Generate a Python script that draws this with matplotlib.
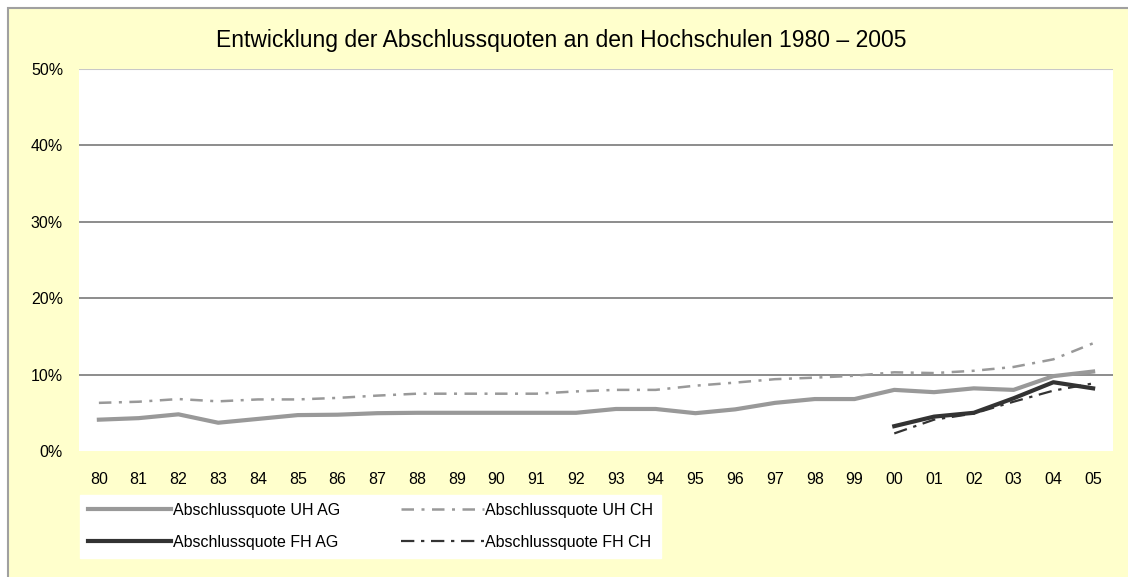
import matplotlib.pyplot as plt
from matplotlib.patches import Rectangle
import numpy as np

plt.rcParams['font.family'] = ['Liberation Sans', 'DejaVu Sans']

jahre = ['80', '81', '82', '83', '84', '85', '86', '87', '88', '89', '90', '91', '92',
         '93', '94', '95', '96', '97', '98', '99', '00', '01', '02', '03', '04', '05']
# Abschlussquoten in %
uh_ag = [4.1, 4.3, 4.8, 3.7, 4.2, 4.7, 4.75, 4.95, 5.0, 5.0, 5.0, 5.0, 5.0,
         5.5, 5.5, 4.95, 5.45, 6.3, 6.8, 6.8, 8.0, 7.7, 8.2, 8.0, 9.8, 10.4]
uh_ch = [6.3, 6.45, 6.8, 6.5, 6.75, 6.75, 6.95, 7.25, 7.5, 7.5, 7.5, 7.5, 7.8,
         8.0, 8.0, 8.55, 8.95, 9.4, 9.6, 9.85, 10.3, 10.2, 10.5, 11.0, 12.0, 14.1]
fh_ag = [None] * 20 + [3.25, 4.5, 5.0, 6.9, 9.0, 8.2]
fh_ch = [None] * 20 + [2.3, 4.1, 4.9, 6.45, 7.9, 8.85]

fh_ag = np.array(fh_ag, dtype=float)
fh_ch = np.array(fh_ch, dtype=float)
x = np.arange(len(jahre))

fig = plt.figure(figsize=(11.28, 5.77), dpi=100)
fig.patch.set_facecolor('white')
# gelber Hintergrund mit grauem Rahmen
bg = Rectangle((8 / 1128, -0.05), 1.1, 1 - 8 / 577 + 0.05,
               transform=fig.transFigure, facecolor='#FFFFCC',
               edgecolor='#A0A0A0', linewidth=1.5, zorder=-10)
fig.patches.append(bg)

ax = fig.add_axes([79 / 1128, 1 - 451 / 577, (1113 - 79) / 1128, (451 - 69) / 577])
ax.set_zorder(1)
ax.set_facecolor('white')
for s in ax.spines.values():
    s.set_visible(False)

for g in [10, 20, 30, 40]:
    ax.axhline(g, color='#6d6d6d', lw=1.1, zorder=1)
ax.axhline(50, color='#c8c8c8', lw=1.5, zorder=1)

l1, = ax.plot(x, uh_ag, color='#999999', lw=3.0,
              label='Abschlussquote UH AG', zorder=3)
l2, = ax.plot(x, uh_ch, color='#999999', lw=1.8, dashes=(5, 3, 1.2, 3),
              label='Abschlussquote UH CH', zorder=2)
l3, = ax.plot(x, fh_ag, color='#333333', lw=3.0,
              label='Abschlussquote FH AG', zorder=4)
l4, = ax.plot(x, fh_ch, color='#333333', lw=1.6, dashes=(6, 3, 1.5, 3),
              label='Abschlussquote FH CH', zorder=3)

ax.set_xlim(-0.5, len(jahre) - 0.5)
ax.set_ylim(0, 50)
ax.set_yticks([0, 10, 20, 30, 40, 50])
ax.set_yticklabels(['0%', '10%', '20%', '30%', '40%', '50%'])
ax.set_xticks(x)
ax.set_xticklabels(jahre)
ax.tick_params(axis='y', length=0, pad=11.5, labelsize=11.5)
ax.tick_params(axis='x', length=0, pad=15, labelsize=11.5)

fig.text(0.498, 1 - 40 / 577, 'Entwicklung der Abschlussquoten an den Hochschulen 1980 – 2005',
         ha='center', va='center', fontsize=16.5)

leg = fig.legend([l1, l3, l2, l4],
                 ['Abschlussquote UH AG', 'Abschlussquote FH AG',
                  'Abschlussquote UH CH', 'Abschlussquote FH CH'],
                 ncol=2, loc='upper left', bbox_to_anchor=(80 / 1128, 1 - 495 / 577),
                 frameon=True, fancybox=False, facecolor='white', edgecolor='white',
                 framealpha=1, fontsize=11.5, handlelength=5.2, handletextpad=0.1,
                 columnspacing=3.8, labelspacing=1.05, borderpad=0.5,
                 borderaxespad=0)
leg.set_zorder(5)

fig.savefig('out.png', dpi=100, facecolor=fig.get_facecolor())
